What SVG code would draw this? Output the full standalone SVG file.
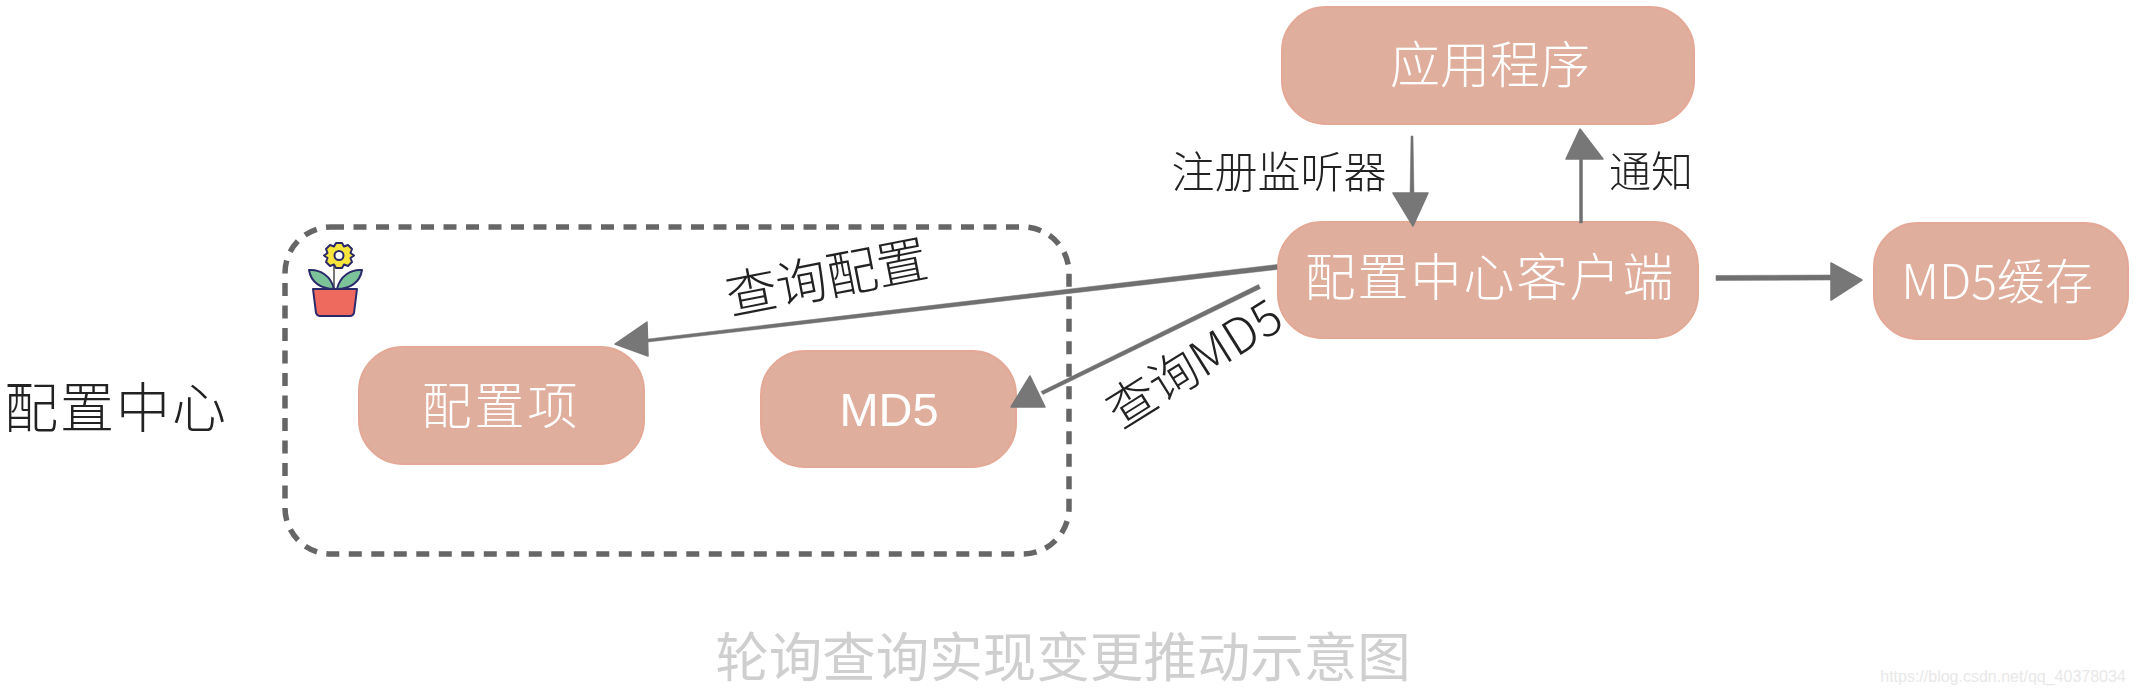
<svg xmlns="http://www.w3.org/2000/svg" width="2136" height="694" viewBox="0 0 2136 694">
<style>
text{font-family:"Noto Sans CJK SC","Liberation Sans",sans-serif;text-anchor:middle;dominant-baseline:central}
.lat{font-family:"Liberation Sans","Noto Sans CJK SC",sans-serif}
.box{fill:#e0ae9d;stroke:#e3a996;stroke-width:2}
.w{fill:#fff;font-weight:300}
.k{fill:#222;font-weight:300}
.ln{fill:#707070;stroke:#707070;stroke-width:.5}
.hd{fill:#777;stroke:#777;stroke-width:1.5;stroke-linejoin:round}
</style>
<defs><filter id="soft" x="-5%" y="-5%" width="110%" height="110%"><feGaussianBlur stdDeviation="0.7"/></filter></defs>
<rect width="2136" height="694" fill="#fff"/>
<g filter="url(#soft)">
<g id="config-center">
<rect x="285" y="227" width="784" height="327" rx="46" fill="none" stroke="#666" stroke-width="5.5" stroke-dasharray="13 9.5"/>
<text x="116" y="404" class="k" font-size="54" letter-spacing="2">配置中心</text>
</g>
<g id="flower-pot" stroke="#2c2a6b" stroke-width="2" stroke-linejoin="round">
<path d="M334 266V288" fill="none" stroke="#777"/>
<path d="M334 289C322 289 311 283 309 270C320 269 331 276 334 289Z" fill="#7cc39a"/>
<path d="M337 289C349 289 360 283 362 270C351 269 340 276 337 289Z" fill="#7cc39a"/>
<path d="M313 289H357L354 313Q353 316 350 316H320Q317 316 316 313Z" fill="#ee6a5f"/>
<path d="M336 243H342L344 246.500L348 245L352 249L350.500 253L354 255.500L350.500 258L352 262L348 266L344 264.500L342 268H336L334 264.500L330 266L326 262L327.500 258L324 255.500L327.500 253L326 249L330 245L334 246.500Z" fill="#f7e53b"/>
<circle cx="339" cy="255.500" r="4.500" fill="#fff"/>
</g>
<g id="config-item"><rect class="box" x="359" y="347" width="285" height="117" rx="44"/><text class="w" x="501" y="402" font-size="50" letter-spacing="3">配置项</text></g>
<g id="md5"><rect class="box" x="761" y="351" width="255" height="116" rx="44"/><text class="w lat" x="889" y="409" font-size="47">MD5</text></g>
<g id="app"><rect class="box" x="1282" y="7" width="412" height="117" rx="44"/><text class="w" x="1490" y="61" font-size="50">应用程序</text></g>
<g id="client"><rect class="box" x="1278" y="222" width="420" height="116" rx="44"/><text class="w" x="1490" y="274" font-size="51" letter-spacing="2">配置中心客户端</text></g>
<g id="md5-cache"><rect class="box" x="1874" y="223" width="254" height="116" rx="44"/><text class="w" x="1997" y="278" font-size="48">MD5缓存</text></g>
<g id="connectors">
<path class="ln" d="M1277 264.500L1277 269.500L648 342L648 339Z"/>
<path class="hd" d="M615 344L647 322L648 356Z"/>
<path class="ln" d="M1258.500 284.500L1260.500 288.500L1043 394.500L1041 391.500Z"/>
<path class="hd" d="M1011 407L1030 376L1045 407Z"/>
<path class="ln" d="M1411 136H1413L1414 195H1410Z"/>
<path class="hd" d="M1393 193H1428L1413 226Z"/>
<path class="ln" d="M1579.500 223L1579.500 158H1582.500L1582.500 223Z"/>
<path class="hd" d="M1580 129L1566 159H1603Z"/>
<path class="ln" d="M1716 275.500L1831 275V280L1716 280.500Z"/>
<path class="hd" d="M1831 263L1862 280L1831 300Z"/>
</g>
<g id="labels">
<text class="k" x="826" y="274" font-size="51" transform="rotate(-11 826 274)">查询配置</text>
<text class="k" x="1192" y="360" font-size="49" transform="rotate(-32 1192 360)">查询MD5</text>
<text class="k" x="1279" y="169" font-size="43">注册监听器</text>
<text class="k" x="1651" y="168" font-size="42">通知</text>
</g>
<g id="caption">
<text x="1063" y="653" font-size="53.500" fill="#cfcfcf" font-weight="400">轮询查询实现变更推动示意图</text>
</g>
</g>
<text class="lat" x="2003" y="676" font-size="16" fill="#e8e8e8">https://blog.csdn.net/qq_40378034</text>
</svg>
